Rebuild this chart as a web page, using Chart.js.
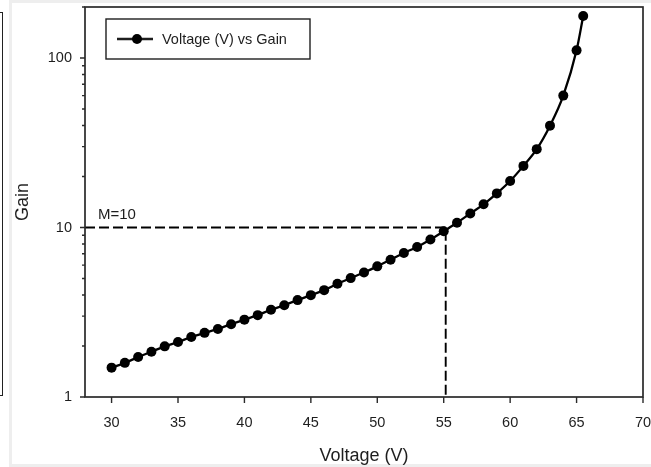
<!DOCTYPE html>
<html>
<head>
<meta charset="utf-8">
<script src="https://cdn.jsdelivr.net/npm/chart.js@4.4.1/dist/chart.umd.min.js"></script>
<style>
  html, body { margin: 0; padding: 0; background: #eeeeee; }
  #wrap { position: relative; width: 651px; height: 467px; overflow: hidden; }
  #panel { position: absolute; left: 12px; top: 3px; width: 639px; height: 461px; background: #fff; }
  #strip { position: absolute; left: 0; top: 0; width: 9px; height: 467px; background: #fff; }
  #edge { position: absolute; left: -10px; top: 12px; width: 11px; height: 382px; border: 1px solid #222; }
  #c { position: absolute; left: 0; top: 0; }
</style>
</head>
<body>
<div id="wrap">
  <div id="strip"></div>
  <div id="edge"></div>
  <div id="panel"></div>
  <canvas id="c" width="651" height="467"></canvas>
</div>
<script>
// measured gain curve
const voltage = [30, 31, 32, 33, 34, 35, 36, 37, 38, 39, 40, 41, 42, 43, 44, 45, 46, 47, 48, 49,
                 50, 51, 52, 53, 54, 55, 56, 57, 58, 59, 60, 61, 62, 63, 64, 65, 65.5];
const gain = [1.49, 1.59, 1.72, 1.85, 1.99, 2.11, 2.26, 2.39, 2.52, 2.69, 2.86, 3.04, 3.27, 3.48, 3.73, 3.99, 4.27, 4.66, 5.03, 5.43,
              5.90, 6.46, 7.08, 7.68, 8.49, 9.50, 10.66, 12.1, 13.7, 15.9, 18.8, 23.1, 29.0, 39.9, 60, 111, 177];

// M=10 marker
const refGain = 10;
const refVoltage = 55.15;
const refLabel = 'M=10';

// axes
const xMin = 28, xMax = 70;
const yMin = 1, yMax = 200;
const xTicks = [30, 35, 40, 45, 50, 55, 60, 65, 70];
const yMajor = [1, 10, 100];

const INK = '#1e1e1e';
const FONT = 'Liberation Sans, Arial, sans-serif';

const series = voltage.map((v, i) => ({ x: v, y: gain[i] }));
const refLine = [
  { x: xMin, y: refGain },
  { x: refVoltage, y: refGain },
  { x: refVoltage, y: yMin }
];

// frame, tick marks, reference label and legend box
const decor = {
  id: 'decor',
  afterDatasetsDraw(chart) {
    const ctx = chart.ctx;
    const a = chart.chartArea;
    const xs = chart.scales.x, ys = chart.scales.y;
    ctx.save();
    ctx.strokeStyle = '#2a2a2a';
    ctx.lineWidth = 1.7;
    ctx.strokeRect(a.left, a.top, a.right - a.left, a.bottom - a.top);

    ctx.lineWidth = 1.4;
    ctx.beginPath();
    xs.ticks.forEach(t => {
      const px = xs.getPixelForValue(t.value);
      ctx.moveTo(px, a.bottom);
      ctx.lineTo(px, a.bottom + 6);
    });
    ys.ticks.forEach(t => {
      const py = ys.getPixelForValue(t.value);
      const len = yMajor.includes(t.value) ? 5 : 3;
      ctx.moveTo(a.left, py);
      ctx.lineTo(a.left - len, py);
    });
    ctx.stroke();

    // label above the dashed line
    ctx.fillStyle = INK;
    ctx.font = '15px ' + FONT;
    ctx.textBaseline = 'alphabetic';
    ctx.fillText(refLabel, a.left + 13, ys.getPixelForValue(refGain) - 9);

    // legend
    const ds = chart.data.datasets[0];
    const bx = 106, by = 19, bw = 204, bh = 40;
    ctx.fillStyle = '#fff';
    ctx.fillRect(bx, by, bw, bh);
    ctx.strokeStyle = INK;
    ctx.lineWidth = 1.4;
    ctx.strokeRect(bx, by, bw, bh);
    const ly = by + bh / 2;
    ctx.lineWidth = 2.3;
    ctx.beginPath();
    ctx.moveTo(bx + 11, ly);
    ctx.lineTo(bx + 47, ly);
    ctx.stroke();
    ctx.fillStyle = ds.pointBackgroundColor;
    ctx.beginPath();
    ctx.arc(bx + 31, ly, 5, 0, Math.PI * 2);
    ctx.fill();
    ctx.fillStyle = INK;
    ctx.font = '14.5px ' + FONT;
    ctx.textBaseline = 'middle';
    ctx.fillText(ds.label, bx + 56, ly + 1);
    ctx.restore();
  }
};

new Chart(document.getElementById('c'), {
  type: 'line',
  data: {
    datasets: [
      {
        label: 'Voltage (V) vs Gain',
        data: series,
        borderColor: '#000',
        borderWidth: 2.3,
        pointBackgroundColor: '#000',
        pointBorderColor: '#000',
        pointRadius: 5,
        pointBorderWidth: 0,
        cubicInterpolationMode: 'monotone'
      },
      {
        label: 'ref',
        data: refLine,
        borderColor: '#000',
        borderWidth: 1.9,
        borderDash: [10, 4],
        pointRadius: 0,
        tension: 0
      }
    ]
  },
  options: {
    responsive: false,
    animation: false,
    devicePixelRatio: 1,
    layout: { padding: { left: 0, top: 7, right: 8, bottom: 0 } },
    plugins: { legend: { display: false }, tooltip: { enabled: false } },
    scales: {
      x: {
        type: 'linear',
        min: xMin,
        max: xMax,
        afterBuildTicks: s => { s.ticks = xTicks.map(v => ({ value: v })); },
        afterFit: s => { s.height = 70; s.paddingLeft = 0; s.paddingRight = 0; },
        grid: { display: false, drawTicks: false },
        border: { display: false },
        ticks: { color: INK, font: { family: FONT, size: 14.5 }, padding: 17, maxRotation: 0, autoSkip: false },
        title: { display: true, text: 'Voltage (V)', color: INK, font: { family: FONT, size: 18 }, padding: { top: 6, bottom: 0 } }
      },
      y: {
        type: 'logarithmic',
        min: yMin,
        max: yMax,
        afterBuildTicks: s => {
          const t = [];
          for (let d = 1; d <= 100; d *= 10) for (let k = 1; k <= 9; k++) if (d * k <= yMax) t.push({ value: d * k });
          t.push({ value: 200 });
          s.ticks = t;
        },
        afterFit: s => { s.width = 85; s.paddingTop = 0; s.paddingBottom = 0; },
        grid: { display: false, drawTicks: false },
        border: { display: false },
        ticks: {
          color: INK,
          font: { family: FONT, size: 14.5 },
          padding: 13,
          autoSkip: false,
          callback: v => yMajor.includes(v) ? String(v) : ''
        },
        title: { display: true, text: 'Gain', color: INK, font: { family: FONT, size: 18 }, padding: { top: 12, bottom: 0 } }
      }
    }
  },
  plugins: [decor]
});
</script>
</body>
</html>
